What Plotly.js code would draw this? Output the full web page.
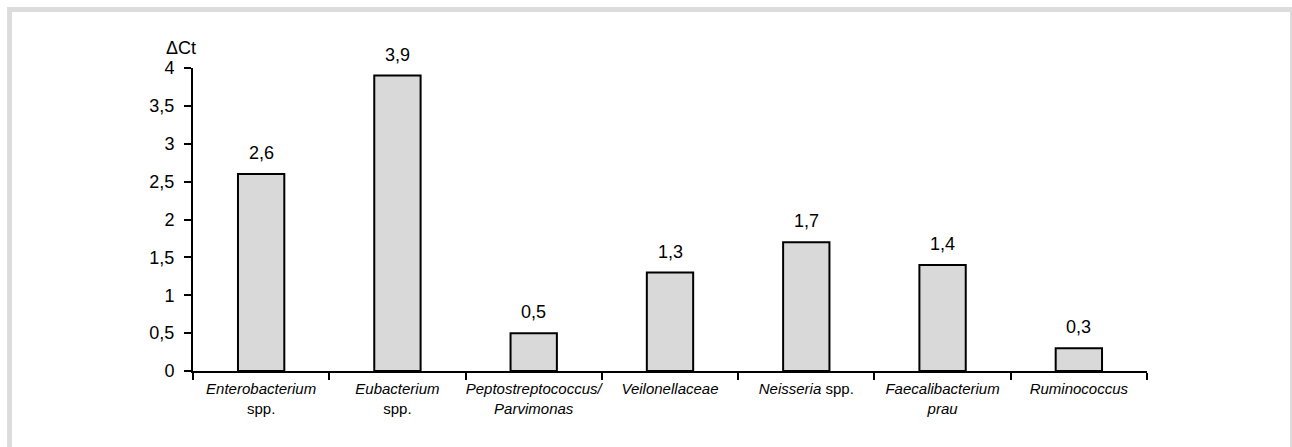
<!DOCTYPE html>
<html>
<head>
<meta charset="utf-8">
<script src="https://cdn.plot.ly/plotly-3.0.1.min.js"></script>
<style>
  html, body { margin: 0; padding: 0; background: #ffffff; }
  #wrap { position: relative; width: 1292px; height: 447px; overflow: hidden; }
  #chart { position: absolute; left: 0; top: 0; width: 1292px; height: 447px; }
  #frame { position: absolute; left: 7px; top: 7px; width: 1278px; height: 460px;
           border: 5px solid #dcdcdc; pointer-events: none; }
</style>
</head>
<body>
<div id="wrap">
  <div id="chart"></div>
  <div id="frame"></div>
</div>
<script>
const categories = [
  "<i>Enterobacterium</i><br>spp.",
  "<i>Eubacterium</i><br>spp.",
  "<i>Peptostreptococcus/</i><br><i>Parvimonas</i>",
  "<i>Veilonellaceae</i>",
  "<i>Neisseria</i> spp.",
  "<i>Faecalibacterium</i><br><i>prau</i>",
  "<i>Ruminococcus</i>"
];
const deltaCt = [2.6, 3.9, 0.5, 1.3, 1.7, 1.4, 0.3];
const yTickVals = [0, 0.5, 1, 1.5, 2, 2.5, 3, 3.5, 4];
const yTickText = ["0", "0,5", "1", "1,5", "2", "2,5", "3", "3,5", "4"];

const FONT = "Liberation Sans, Arial, sans-serif";

const trace = {
  type: "bar",
  x: categories,
  y: deltaCt,
  marker: { color: "#d9d9d9", line: { color: "#000000", width: 2 } },
  hoverinfo: "none"
};

const annotations = categories.map((c, i) => ({
  x: c, y: deltaCt[i], xref: "x", yref: "y",
  text: deltaCt[i].toFixed(1).replace(".", ","),
  showarrow: false, yshift: 21,
  font: { family: FONT, size: 18, color: "#000" }
}));
annotations.push({
  xref: "paper", yref: "paper", x: 0, y: 1, xanchor: "center", yanchor: "middle",
  xshift: -12, yshift: 20,
  text: "ΔCt", showarrow: false,
  font: { family: FONT, size: 18, color: "#000" }
});

const layout = {
  width: 1292, height: 447,
  margin: { l: 193, r: 145, t: 68, b: 76 },
  paper_bgcolor: "#ffffff", plot_bgcolor: "#ffffff",
  showlegend: false,
  bargap: 0.66,
  font: { family: FONT, color: "#000" },
  xaxis: {
    type: "category",
    showline: true, linecolor: "#000", linewidth: 2,
    ticks: "outside", ticklen: 7, tickwidth: 2, tickcolor: "#000",
    tickson: "boundaries",
    tickangle: 0,
    ticklabelstandoff: 3,
    showgrid: false, zeroline: false,
    tickfont: { family: FONT, size: 15, color: "#000" },
    fixedrange: true
  },
  yaxis: {
    range: [0, 4],
    tickvals: yTickVals, ticktext: yTickText,
    showline: true, linecolor: "#000", linewidth: 2,
    ticks: "outside", ticklen: 7, tickwidth: 2, tickcolor: "#000",
    ticklabelstandoff: 6,
    showgrid: false, zeroline: false,
    tickfont: { family: FONT, size: 18, color: "#000" },
    fixedrange: true
  },
  annotations: annotations
};

Plotly.newPlot("chart", [trace], layout, { staticPlot: true, displayModeBar: false });
</script>
</body>
</html>
